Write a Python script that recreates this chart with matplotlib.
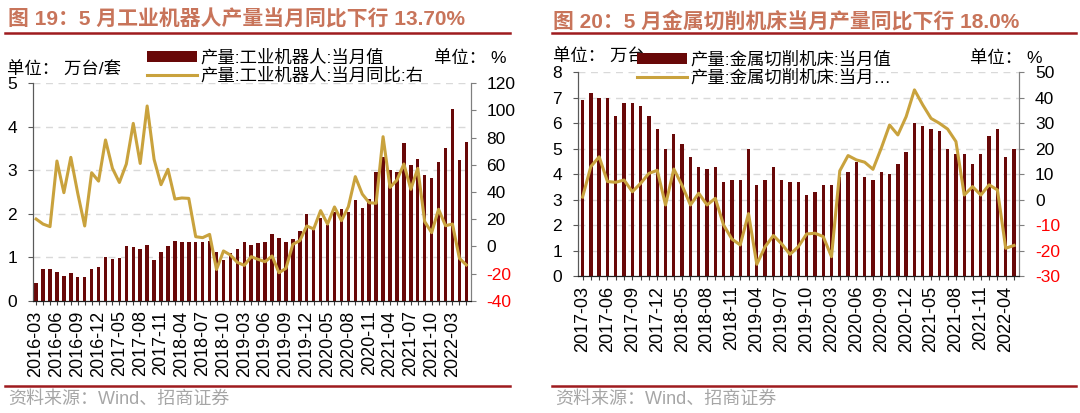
import matplotlib
matplotlib.use('Agg')
import matplotlib.pyplot as plt
from matplotlib.lines import Line2D
from matplotlib.patches import Patch
import numpy as np

plt.rcParams['font.family'] = ['Liberation Sans', 'Noto Sans CJK SC', 'DejaVu Sans']
plt.rcParams['axes.unicode_minus'] = False

#######################
# Data
#######################
# 工业机器人: 2016-03 .. 2022-05, no Jan/Feb
robot_units = [0.41, 0.74, 0.74, 0.65, 0.56, 0.64, 0.55, 0.55, 0.74, 0.77,
               1.00, 0.96, 0.99, 1.25, 1.23, 1.19, 1.29, 0.93, 1.11, 1.26,
               1.38, 1.34, 1.36, 1.36, 1.35, 1.38, 1.13, 0.94, 1.10, 1.18,
               1.36, 1.28, 1.32, 1.36, 1.53, 1.44, 1.36, 1.42, 1.60, 1.99,
               1.62, 1.91, 1.75, 2.05, 2.10, 2.05, 2.31, 2.14, 2.35, 2.96,
               3.30, 3.01, 2.97, 3.63, 3.12, 3.27, 2.89, 2.83, 3.19, 3.51,
               4.42, 3.24, 3.66]
robot_yoy = [20.1, 16.4, 14.5, 62.8, 39.5, 65.5, 39.0, 15.0, 54.2, 48.0,
             78.3, 57.4, 47.0, 60.6, 90.5, 61.0, 103.3, 64.0, 45.4, 56.7,
             34.8, 35.6, 35.3, 7.1, 6.4, 8.8, -17.0, -3.4, -6.4, -11.8,
             -14.0, -7.6, -9.6, -11.3, -7.1, -19.4, -16.2, 1.5, 4.2, 15.0,
             12.8, 26.3, 16.4, 29.0, 18.9, 29.2, 51.3, 38.5, 32.1, 31.7,
             80.7, 43.4, 48.8, 60.6, 42.0, 57.4, 18.2, 10.1, 27.3, 15.2,
             16.4, -8.8, -13.7]

# 金属切削机床: 2017-03 .. 2022-05, no Jan/Feb
tool_units = [6.90, 7.19, 6.98, 6.98, 6.28, 6.78, 6.78, 6.69, 6.28, 5.79,
              4.99, 5.58, 5.20, 4.69, 4.28, 4.19, 4.28, 3.68, 3.78, 3.78,
              4.99, 3.59, 3.78, 4.28, 3.78, 3.68, 3.68, 3.18, 3.29, 3.59,
              3.59, 3.87, 4.08, 4.48, 3.87, 3.78, 4.08, 3.99, 4.38, 4.88,
              5.99, 5.88, 5.79, 5.68, 4.99, 4.78, 4.78, 4.38, 4.78, 5.48,
              5.79, 4.69, 4.99]
tool_yoy = [1.0, 13.0, 16.8, 7.1, 6.8, 7.7, 3.1, 6.4, 10.3, 11.5,
            -2.1, 12.0, 5.5, -2.1, 2.5, -2.1, 0.5, -10.0, -15.5, -17.8,
            -5.5, -25.4, -18.5, -14.1, -17.4, -21.5, -18.5, -13.5, -13.2, -14.5,
            -22.4, 11.3, 17.3, 15.6, 14.7, 11.9, 20.2, 29.3, 25.4, 32.6,
            43.1, 37.2, 31.9, 30.0, 27.7, 22.8, 1.8, 5.1, 1.8, 5.8,
            3.8, -19.1, -18.0]


def month_labels(y0, y1, last_month):
    # Wind series skip Jan/Feb (combined release)
    out = []
    for y in range(y0, y1 + 1):
        for m in range(3, 13):
            if y == y1 and m > last_month:
                break
            out.append('%d-%02d' % (y, m))
    return out


robot_dates = month_labels(2016, 2022, 5)
tool_dates = month_labels(2017, 2022, 5)

#######################
# Styles
#######################
W, H = 1080, 413
bar_col = '#680808'
line_col = '#C9A23D'
title_col = '#C8745A'
rule_col = '#9E1B1E'
grid_col = '#D9D9D9'
src_col = '#A6A6A6'
fs = 12.5


def fx(x):
    return x / W


def fy(y):
    return 1 - y / H


def make_panel(fig, box, dates, units, yoy, ylim, yticks, rlim, rticks, bw, xlim):
    x0, y0, x1, y1 = box
    ax = fig.add_axes([fx(x0), fy(y1), fx(x1) - fx(x0), fy(y0) - fy(y1)])
    xs = np.arange(len(dates))
    ax.bar(xs, units, width=bw, color=bar_col, zorder=2)
    ax.set_ylim(*ylim)
    ax.set_yticks(yticks)
    ax.set_xlim(*xlim)
    ax.set_axisbelow(True)
    ax.yaxis.grid(True, ls=(0, (5, 4)), color=grid_col, lw=1.0)
    ax.set_xticks(xs)
    ax.set_xticklabels([d if i % 3 == 0 else '' for i, d in enumerate(dates)],
                       rotation=90, fontsize=13)
    ax.tick_params(axis='x', length=3, width=0.8, color='#404040', pad=4)
    ax.tick_params(axis='y', length=3.5, width=0.8, color='#595959', labelsize=fs, pad=8)

    axr = ax.twinx()
    axr.plot(xs, yoy, color=line_col, lw=2.2, zorder=3)
    axr.set_ylim(*rlim)
    axr.set_yticks(rticks)
    axr.set_yticklabels([str(t) for t in rticks])
    for t, lab in zip(rticks, axr.get_yticklabels()):
        if t < 0:
            lab.set_color('#FF0000')
    axr.tick_params(axis='y', length=3.5, width=0.8, color='#7F7F7F', labelsize=fs, pad=8)

    for a in (ax, axr):
        a.spines['top'].set_visible(False)
        a.spines['left'].set_color('#595959')
        a.spines['right'].set_color('#7F7F7F')
        a.spines['bottom'].set_color('#202020')
    return ax, axr


fig = plt.figure(figsize=(W / 100, H / 100), dpi=100)

### Left panel: 工业机器人
make_panel(fig, (33, 83.3, 470.5, 300.7), robot_dates, robot_units, robot_yoy,
           (0, 5), range(0, 6), (-40, 120), list(range(-40, 121, 20)), 0.5, (-0.45, 62.6))

### Right panel: 金属切削机床
make_panel(fig, (578, 72.3, 1019, 276), tool_dates, tool_units, tool_yoy,
           (0, 8), range(0, 9), (-30, 50), list(range(-30, 51, 10)), 0.4, (-0.55, 52.6))

### Titles, rules, notes
fig.text(fx(8), fy(19), '图 19：5 月工业机器人产量当月同比下行 13.70%', fontsize=15,
         fontweight='bold', color=title_col, va='center', ha='left')
fig.text(fx(553), fy(21), '图 20：5 月金属切削机床当月产量同比下行 18.0%', fontsize=15,
         fontweight='bold', color=title_col, va='center', ha='left')
for xa, xb in ((5, 510), (552, 1076)):
    fig.add_artist(Line2D([fx(xa), fx(xb)], [fy(33), fy(33)], color=rule_col, lw=1.8))
    fig.add_artist(Line2D([fx(xa), fx(xb)], [fy(386), fy(386)], color=rule_col, lw=1.8))
    fig.text(fx(xa + 3), fy(399), '资料来源：Wind、招商证券', fontsize=13, color=src_col,
             va='center', ha='left')

fig.text(fx(7), fy(70), '单位： 万台/套', fontsize=fs, va='center', ha='left')
fig.text(fx(507), fy(58), '单位： %', fontsize=fs, va='center', ha='right')
fig.text(fx(553), fy(57), '单位： 万台', fontsize=fs, va='center', ha='left')
fig.text(fx(1042), fy(58), '单位： %', fontsize=fs, va='center', ha='right')

### Legends
h_bar = Patch(facecolor=bar_col, edgecolor='none')
h_line = Line2D([], [], color=line_col, lw=2.2)
fig.legend([h_bar, h_line], ['产量:工业机器人:当月值', '产量:工业机器人:当月同比:右'],
           loc='upper left', bbox_to_anchor=(fx(138), fy(40)), frameon=False,
           fontsize=fs, handlelength=2.9, handletextpad=0.2, labelspacing=0.1,
           borderpad=0.0, handleheight=0.6)
fig.legend([h_bar, h_line], ['产量:金属切削机床:当月值', '产量:金属切削机床:当月…'],
           loc='upper left', bbox_to_anchor=(fx(628), fy(42)), frameon=False,
           fontsize=fs, handlelength=2.9, handletextpad=0.2, labelspacing=0.1,
           borderpad=0.0, handleheight=0.6)

fig.savefig('out.png', dpi=100)
